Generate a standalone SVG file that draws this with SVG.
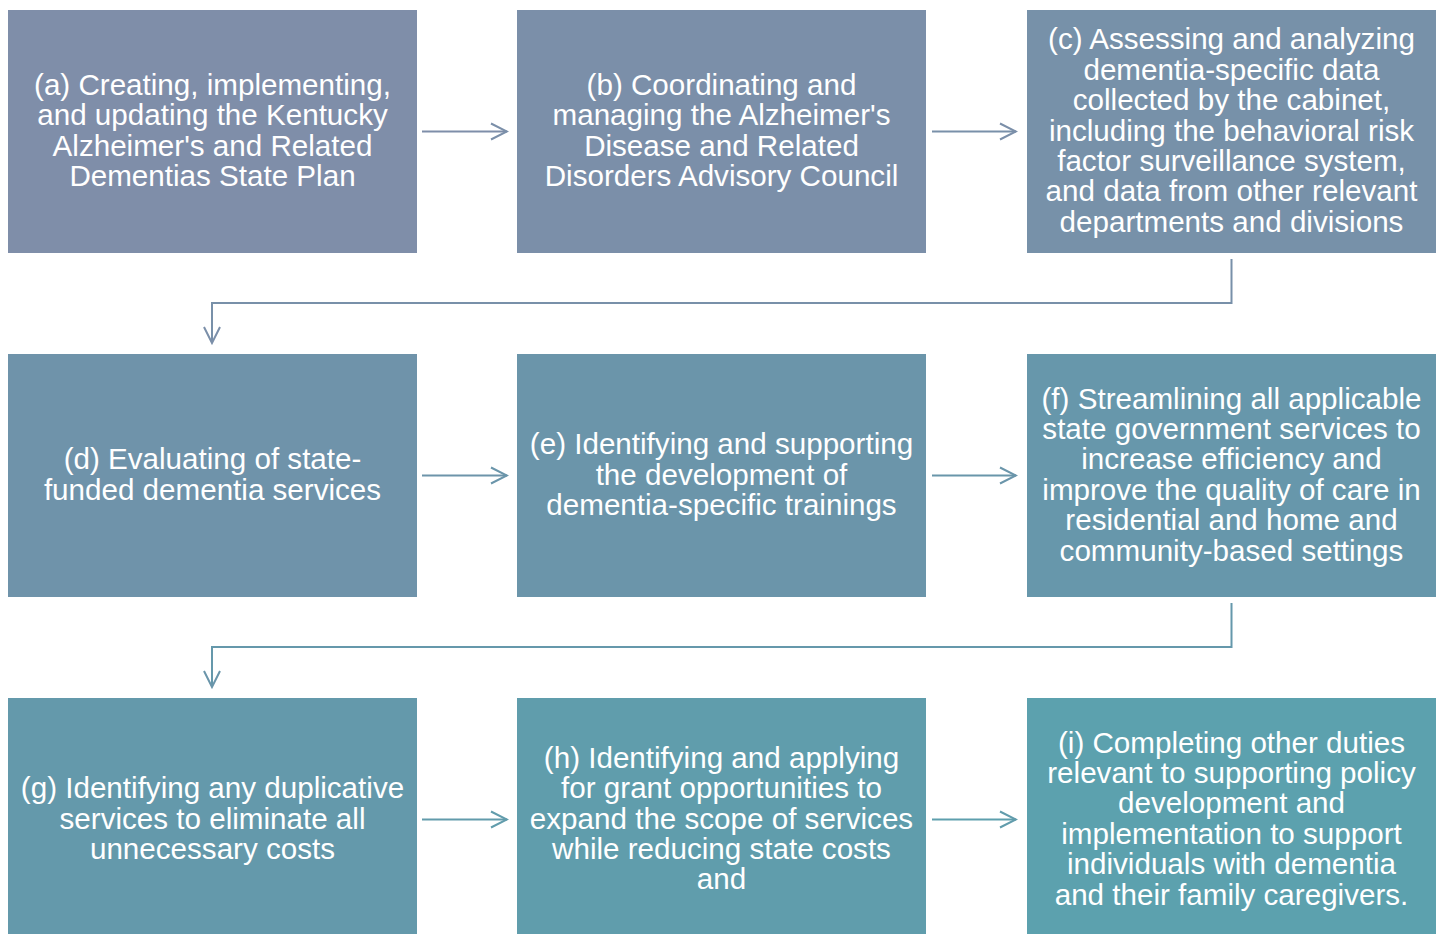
<svg xmlns="http://www.w3.org/2000/svg" width="1440" height="934" viewBox="0 0 1440 934">
<defs>
<style>
.box text{font-family:"Liberation Sans",Arial,sans-serif;font-size:29.6px;fill:#ffffff;text-anchor:middle}
.conn path{fill:none;stroke-width:2}
</style>
<marker id="ah1" viewBox="0 0 20 20" refX="18" refY="10" markerWidth="20" markerHeight="20" markerUnits="userSpaceOnUse" orient="auto"><path d="M2,2 L18,10 L2,18" fill="none" stroke="#7b8fa9" stroke-width="2"/></marker>
<marker id="ah2" viewBox="0 0 20 20" refX="18" refY="10" markerWidth="20" markerHeight="20" markerUnits="userSpaceOnUse" orient="auto"><path d="M2,2 L18,10 L2,18" fill="none" stroke="#6a95aa" stroke-width="2"/></marker>
<marker id="ah3" viewBox="0 0 20 20" refX="18" refY="10" markerWidth="20" markerHeight="20" markerUnits="userSpaceOnUse" orient="auto"><path d="M2,2 L18,10 L2,18" fill="none" stroke="#619cac" stroke-width="2"/></marker>
</defs>
<rect width="1440" height="934" fill="#ffffff"/>
<g id="connectors" class="conn">
<path d="M422,131.5 H507" stroke="#7e8ea9" marker-end="url(#ah1)"/>
<path d="M932,131.5 H1016" stroke="#7990a9" marker-end="url(#ah1)"/>
<path d="M1231.5,259 V303 H212 V343" stroke="#7890a9" marker-end="url(#ah1)"/>
<path d="M422,475.5 H507" stroke="#6d94aa" marker-end="url(#ah2)"/>
<path d="M932,475.5 H1016" stroke="#6996aa" marker-end="url(#ah2)"/>
<path d="M1231.5,603 V647 H212 V687" stroke="#6598ab" marker-end="url(#ah2)"/>
<path d="M422,819.5 H507" stroke="#629bab" marker-end="url(#ah3)"/>
<path d="M932,819.5 H1016" stroke="#5e9fad" marker-end="url(#ah3)"/>
</g>
<g id="node-a" class="box"><rect x="8" y="10" width="409" height="243" fill="#7f8ea9"/>
<text><tspan x="212.5" y="95">(a) Creating, implementing,</tspan><tspan x="212.5" y="125.4">and updating the Kentucky</tspan><tspan x="212.5" y="155.8">Alzheimer's and Related</tspan><tspan x="212.5" y="186.2">Dementias State Plan</tspan></text></g>
<g id="node-b" class="box"><rect x="517" y="10" width="409" height="243" fill="#7b8fa9"/>
<text><tspan x="721.5" y="95">(b) Coordinating and</tspan><tspan x="721.5" y="125.4">managing the Alzheimer's</tspan><tspan x="721.5" y="155.8">Disease and Related</tspan><tspan x="721.5" y="186.2">Disorders Advisory Council</tspan></text></g>
<g id="node-c" class="box"><rect x="1027" y="10" width="409" height="243" fill="#7791a9"/>
<text><tspan x="1231.5" y="49.4">(c) Assessing and analyzing</tspan><tspan x="1231.5" y="79.8">dementia-specific data</tspan><tspan x="1231.5" y="110.2">collected by the cabinet,</tspan><tspan x="1231.5" y="140.6">including the behavioral risk</tspan><tspan x="1231.5" y="171">factor surveillance system,</tspan><tspan x="1231.5" y="201.4">and data from other relevant</tspan><tspan x="1231.5" y="231.8">departments and divisions</tspan></text></g>
<g id="node-d" class="box"><rect x="8" y="354" width="409" height="243" fill="#6f93aa"/>
<text><tspan x="212.5" y="469.4">(d) Evaluating of state-</tspan><tspan x="212.5" y="499.8">funded dementia services</tspan></text></g>
<g id="node-e" class="box"><rect x="517" y="354" width="409" height="243" fill="#6b95aa"/>
<text><tspan x="721.5" y="454.2">(e) Identifying and supporting</tspan><tspan x="721.5" y="484.6">the development of</tspan><tspan x="721.5" y="515">dementia-specific trainings</tspan></text></g>
<g id="node-f" class="box"><rect x="1027" y="354" width="409" height="243" fill="#6797ab"/>
<text><tspan x="1231.5" y="408.6">(f) Streamlining all applicable</tspan><tspan x="1231.5" y="439">state government services to</tspan><tspan x="1231.5" y="469.4">increase efficiency and</tspan><tspan x="1231.5" y="499.8">improve the quality of care in</tspan><tspan x="1231.5" y="530.2">residential and home and</tspan><tspan x="1231.5" y="560.6">community-based settings</tspan></text></g>
<g id="node-g" class="box"><rect x="8" y="698" width="409" height="243" fill="#6499ab"/>
<text><tspan x="212.5" y="798.2">(g) Identifying any duplicative</tspan><tspan x="212.5" y="828.6">services to eliminate all</tspan><tspan x="212.5" y="859">unnecessary costs</tspan></text></g>
<g id="node-h" class="box"><rect x="517" y="698" width="409" height="243" fill="#609dac"/>
<text><tspan x="721.5" y="767.8">(h) Identifying and applying</tspan><tspan x="721.5" y="798.2">for grant opportunities to</tspan><tspan x="721.5" y="828.6">expand the scope of services</tspan><tspan x="721.5" y="859">while reducing state costs</tspan><tspan x="721.5" y="889.4">and</tspan></text></g>
<g id="node-i" class="box"><rect x="1027" y="698" width="409" height="243" fill="#5ca1ae"/>
<text><tspan x="1231.5" y="752.6">(i) Completing other duties</tspan><tspan x="1231.5" y="783">relevant to supporting policy</tspan><tspan x="1231.5" y="813.4">development and</tspan><tspan x="1231.5" y="843.8">implementation to support</tspan><tspan x="1231.5" y="874.2">individuals with dementia</tspan><tspan x="1231.5" y="904.6">and their family caregivers.</tspan></text></g>
</svg>
